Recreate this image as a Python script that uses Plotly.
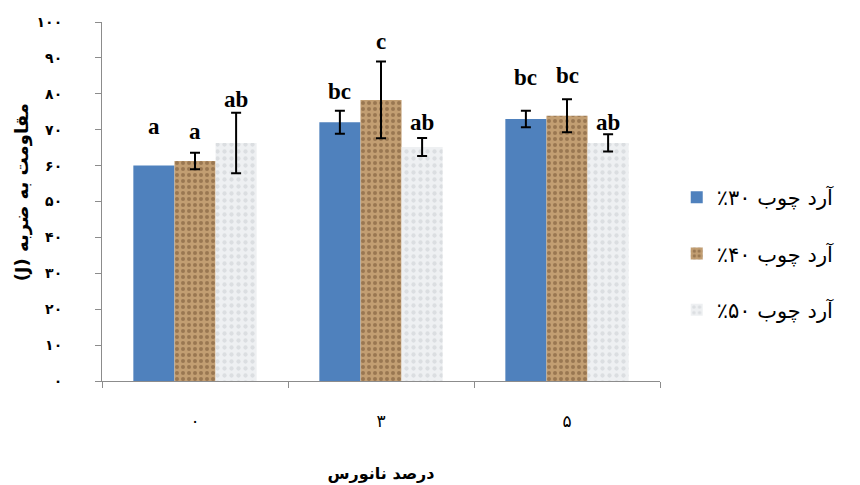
import numpy as np
import plotly.graph_objects as go

categories = ["۰", "۳", "۵"]
series_names = ["٪۳۰ آرد چوب", "٪۴۰ آرد چوب", "٪۵۰ آرد چوب"]
blue_vals = [60.0, 72.1, 73.0]
blue_err = [np.nan, 3.2, 2.3]
brown_vals = [61.3, 78.3, 73.9]
brown_err = [2.3, 10.7, 4.6]
gray_vals = [66.3, 65.2, 66.3]
gray_err = [8.4, 2.5, 2.4]
letters_blue = ["a", "bc", "bc"]
letters_brown = ["a", "c", "bc"]
letters_gray = ["ab", "ab", "ab"]
y_tickvals = [0, 10, 20, 30, 40, 50, 60, 70, 80, 90, 100]
y_ticktext = ["۰", "۱۰", "۲۰", "۳۰", "۴۰", "۵۰", "۶۰", "۷۰", "۸۰", "۹۰", "۱۰۰"]
x_title = "درصد نانورس"
y_title = "(J) مقاومت به ضربه"

styles = [
    dict(color="#4f81bd", pattern=None),
    dict(color="#a8825a", pattern=dict(shape=".", fgcolor="#6f5030", bgcolor="#c29e72", size=6, solidity=0.35)),
    dict(color="#e8eaec", pattern=dict(shape=".", fgcolor="#c8ccd0", bgcolor="#eef0f2", size=7, solidity=0.3)),
]
vals = [blue_vals, brown_vals, gray_vals]
errs = [blue_err, brown_err, gray_err]
letters = [letters_blue, letters_brown, letters_gray]

fig = go.Figure()
for i in range(3):
    marker = dict(color=styles[i]["color"], line=dict(width=0))
    if styles[i]["pattern"]:
        marker["pattern"] = styles[i]["pattern"]
    fig.add_trace(go.Bar(
        x=categories, y=vals[i], name=series_names[i],
        marker=marker, legendgroup=f"g{i}",
        error_y=dict(type="data", array=np.array(errs[i], dtype=float), visible=True,
                     color="black", thickness=2, width=5),
    ))

# letter labels above bars / error bars (pixel offsets)
yshifts = [
    [25, 5, 19],
    [7, 5, 9],
    [-1, 1, -3],
]
bw = (1 - 0.337) / 3
for i in range(3):
    for j in range(3):
        e = errs[i][j]
        e = 0 if (e is None or np.isnan(e)) else e
        fig.add_annotation(
            x=j + (i - 1) * bw, y=vals[i][j] + e,
            text=letters[i][j], showarrow=False, yanchor="bottom",
            yshift=yshifts[i][j],
            font=dict(family="Times New Roman, Liberation Serif, serif", size=23,
                      color="black", weight="bold"),
        )

# y-axis title as rotated annotation
fig.add_annotation(
    x=-0.143, y=0.526, xref="paper", yref="paper", text=y_title,
    textangle=-90, showarrow=False, xanchor="center", yanchor="middle",
    font=dict(family="DejaVu Sans", size=18, color="black", weight="bold"),
)

fig.update_layout(
    width=860, height=485,
    margin=dict(l=102, r=200, t=22, b=104),
    plot_bgcolor="white", paper_bgcolor="white",
    barmode="group", bargap=0.337, bargroupgap=0,
    showlegend=True,
    legend=dict(x=1.03, y=0.568, xanchor="left", yanchor="top",
                font=dict(family="DejaVu Sans", size=21, color="black"),
                tracegroupgap=26, itemsizing="constant",
                bgcolor="rgba(0,0,0,0)"),
    font=dict(family="DejaVu Sans", color="black"),
)
fig.update_xaxes(
    automargin=False,
    showline=True, linecolor="#8c8c8c", linewidth=1,
    ticks="outside", tickson="boundaries", ticklen=6, tickcolor="#8c8c8c",
    tickfont=dict(family="DejaVu Sans", size=17, color="black"),
    ticklabelstandoff=25,
    title=dict(text=x_title, font=dict(family="DejaVu Sans", size=16, color="black", weight="bold"), standoff=37),
    showgrid=False,
)
fig.update_yaxes(
    automargin=False,
    range=[0, 100], tickvals=y_tickvals, ticktext=y_ticktext,
    showline=True, linecolor="#8c8c8c", linewidth=1,
    ticks="outside", ticklen=6, tickcolor="#8c8c8c",
    tickfont=dict(family="DejaVu Sans", size=14, color="black", weight="bold"),
    ticklabelstandoff=30,
    showgrid=False, zeroline=False,
)
fig.write_html("out.html", config={"displayModeBar": False},
               post_script="document.body.style.margin='0';")
